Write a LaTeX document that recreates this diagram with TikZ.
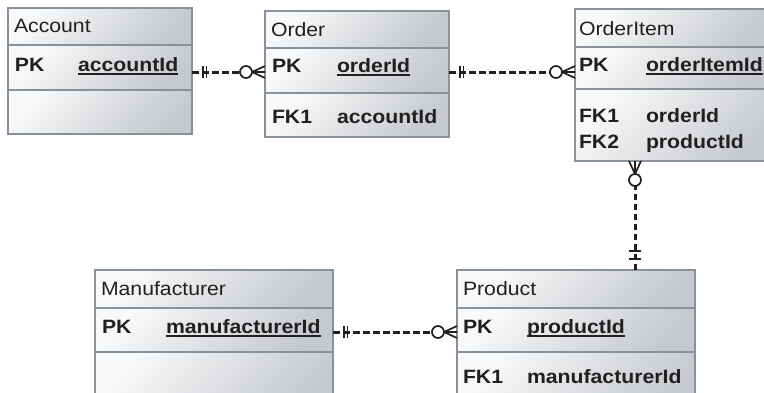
\documentclass[tikz,border=0pt]{standalone}
\usepackage{fontspec}
\setmainfont{Liberation Sans}[FakeStretch=1.1]
\usetikzlibrary{calc}
\definecolor{ink}{RGB}{35,31,32}
\definecolor{bordc}{RGB}{137,146,155}
\definecolor{lightc}{RGB}{248,249,250}
\definecolor{darkc}{RGB}{198,201,205}
\newcommand\ulx[1]{{\setbox0\hbox{#1}\rlap{\rule[-3.8pt]{\wd0}{1.7pt}}\box0}}
\tikzset{
  sect/.style={draw=bordc, line width=1.5pt, top color=lightc, bottom color=darkc, shading angle=45,
    inner sep=0pt, outer sep=0pt, anchor=north west},
  txt/.style={anchor=base west, inner sep=0pt, outer sep=0pt, text=ink, font=\fontsize{19.3}{22}\selectfont},
  bt/.style={txt, font=\fontsize{19.3}{22}\selectfont\bfseries},
  conn/.style={draw=ink, line width=3pt, dash pattern=on 6.5pt off 3.5pt},
  mk/.style={draw=ink, line width=1.7pt},
  pics/onemark/.style={code={\draw[mk] (11,-6)--(11,6) (14.5,-6)--(14.5,6);}},
  pics/onewide/.style={code={\draw[mk] (11,-6)--(11,6) (19,-6)--(19,6);}},
  pics/manymark/.style={code={\draw[mk] (0,-6)--(13,0)--(0,6) (0,0)--(13,0);
     \draw[mk, fill=white] (19,0) circle (6);}}
}
\begin{document}
\begin{tikzpicture}[x=1pt,y=-1pt]
\useasboundingbox (0,0) rectangle (764,392);
\clip (0,0) rectangle (764,392);
\fill[white] (0,0) rectangle (764,392);
% Account
\node[sect, minimum width=184, minimum height=37] (acc-t) at (8,8) {};
\node[sect, minimum width=184, minimum height=45] (acc-pk) at (8,45) {};
\node[sect, minimum width=184, minimum height=44] (acc-fk) at (8,90) {};
\node[txt] (acc-n) at (14,32) {Account};
\node[bt] (acc-k) at (15,71) {PK};
\node[bt] (acc-f) at (78,71) {\ulx{accountId}};
% Order
\node[sect, minimum width=184, minimum height=37] (ord-t) at (265,11) {};
\node[sect, minimum width=184, minimum height=45] (ord-pk) at (265,48) {};
\node[sect, minimum width=184, minimum height=44] (ord-fk) at (265,93) {};
\node[txt] (ord-n) at (271,36) {Order};
\node[bt] (ord-k) at (272,72) {PK};
\node[bt] (ord-f) at (337,72) {\ulx{orderId}};
\node[bt] (ord-k2) at (272,123) {FK1};
\node[bt] (ord-f2) at (337,123) {accountId};
% OrderItem
\node[sect, minimum width=200, minimum height=38] (oi-t) at (575,9) {};
\node[sect, minimum width=200, minimum height=42] (oi-pk) at (575,47) {};
\node[sect, minimum width=200, minimum height=72] (oi-fk) at (575,89) {};
\node[txt] (oi-n) at (579,35) {OrderItem};
\node[bt] (oi-k) at (579,71) {PK};
\node[bt] (oi-f) at (646,71) {\ulx{orderItemId}};
\node[bt] (oi-k2) at (579,122) {FK1};
\node[bt] (oi-f2) at (646,122) {orderId};
\node[bt] (oi-k3) at (579,148) {FK2};
\node[bt] (oi-f3) at (646,148) {productId};
% Manufacturer
\node[sect, minimum width=238, minimum height=38] (man-t) at (95,270) {};
\node[sect, minimum width=238, minimum height=44] (man-pk) at (95,308) {};
\node[sect, minimum width=238, minimum height=60] (man-fk) at (95,352) {};
\node[txt] (man-n) at (101,295) {Manufacturer};
\node[bt] (man-k) at (102,333) {PK};
\node[bt] (man-f) at (166,333) {\ulx{manufacturerId}};
% Product
\node[sect, minimum width=238, minimum height=38] (pr-t) at (457,270) {};
\node[sect, minimum width=238, minimum height=44] (pr-pk) at (457,308) {};
\node[sect, minimum width=238, minimum height=60] (pr-fk) at (457,352) {};
\node[txt] (pr-n) at (463,295) {Product};
\node[bt] (pr-k) at (463,333) {PK};
\node[bt] (pr-f) at (527,333) {\ulx{productId}};
\node[bt] (pr-k2) at (463,383) {FK1};
\node[bt] (pr-f2) at (527,383) {manufacturerId};
% connector rows
\coordinate (r1) at (0,72);
\coordinate (r2) at (0,332);
\coordinate (cx) at (635,0);
\coordinate (a1) at (acc-pk.east |- r1);
\coordinate (b1) at (ord-pk.west |- r1);
\coordinate (a2) at (ord-pk.east |- r1);
\coordinate (b2) at (oi-pk.west |- r1);
\coordinate (a3) at (man-pk.east |- r2);
\coordinate (b3) at (pr-pk.west |- r2);
\coordinate (a4) at (pr-t.north -| cx);
\coordinate (b4) at (oi-fk.south -| cx);
% Account - Order
\draw[conn] (a1) -- ($(b1)+(-25,0)$);
\pic at (a1) {onemark};
\pic[rotate=180] at (b1) {manymark};
% Order - OrderItem
\draw[conn] (a2) -- ($(b2)+(-25,0)$);
\pic at (a2) {onemark};
\pic[rotate=180] at (b2) {manymark};
% Manufacturer - Product
\draw[conn] (a3) -- ($(b3)+(-25,0)$);
\pic at (a3) {onemark};
\pic[rotate=180] at (b3) {manymark};
% Product - OrderItem
\draw[conn] (a4) -- ($(b4)+(0,25)$);
\pic[rotate=90] at (a4) {onewide};
\pic[rotate=-90] at (b4) {manymark};
\end{tikzpicture}
\end{document}
